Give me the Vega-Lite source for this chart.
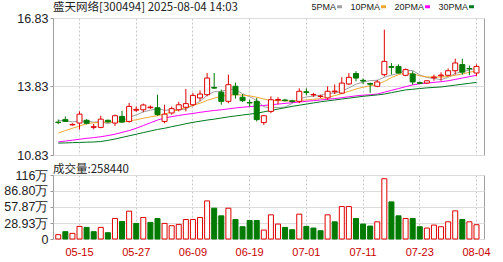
{
"$schema":"https://vega.github.io/schema/vega-lite/v6.json",
"autosize":{"type":"pad"},
"padding":{"left":3,"top":1,"right":20,"bottom":0},
"background":"white",
"bounds":"flush",
"spacing":20,
"config":{
  "view":{"stroke":"#a0a0a0"},
  "font":"Liberation Sans",
  "axis":{"labelFont":"Liberation Sans","labelFontSize":12.5,"labelColor":"#222","domain":false,"tickColor":"#999","tickSize":3,"labelPadding":2,"gridColor":"#dcdcdc","title":null,"labelOverlap":false},
  "title":{"font":"Noto Sans CJK SC","fontSize":11.5,"fontWeight":"normal","anchor":"start","frame":"group","color":"#222"}
},
"datasets":{"k":[
{"d":"05-12","o":12.25,"h":12.38,"l":12.18,"c":12.27,"cu":0,"vu":1,"v":7.8,"ma5":12.35,"ma10":11.79,"ma20":11.40,"ma30":11.35},
{"d":"05-13","o":12.38,"h":12.52,"l":12.28,"c":12.30,"cu":0,"vu":0,"v":13.2,"ma5":12.33,"ma10":11.90,"ma20":11.44,"ma30":11.36},
{"d":"05-14","o":12.15,"h":12.22,"l":12.12,"c":12.17,"cu":1,"vu":1,"v":10.2,"ma5":12.28,"ma10":12.00,"ma20":11.48,"ma30":11.37},
{"d":"05-15","o":12.23,"h":12.74,"l":11.94,"c":12.62,"cu":1,"vu":1,"v":22.8,"ma5":12.32,"ma10":12.10,"ma20":11.52,"ma30":11.38},
{"d":"05-16","o":12.35,"h":12.40,"l":12.17,"c":12.22,"cu":0,"vu":0,"v":21,"ma5":12.31,"ma10":12.20,"ma20":11.56,"ma30":11.39},
{"d":"05-19","o":12.04,"h":12.19,"l":11.96,"c":12.07,"cu":1,"vu":0,"v":13.2,"ma5":12.27,"ma10":12.24,"ma20":11.59,"ma30":11.40},
{"d":"05-20","o":12.04,"h":12.55,"l":12.00,"c":12.40,"cu":1,"vu":1,"v":21,"ma5":12.29,"ma10":12.26,"ma20":11.63,"ma30":11.42},
{"d":"05-21","o":12.35,"h":12.38,"l":12.25,"c":12.28,"cu":0,"vu":0,"v":11.4,"ma5":12.20,"ma10":12.27,"ma20":11.68,"ma30":11.47},
{"d":"05-22","o":12.23,"h":12.60,"l":12.10,"c":12.55,"cu":1,"vu":1,"v":37.1,"ma5":12.30,"ma10":12.28,"ma20":11.74,"ma30":11.53},
{"d":"05-23","o":12.52,"h":12.77,"l":12.25,"c":12.27,"cu":0,"vu":0,"v":31.7,"ma5":12.31,"ma10":12.29,"ma20":11.82,"ma30":11.60},
{"d":"05-26","o":12.30,"h":13.11,"l":12.25,"c":12.96,"cu":1,"vu":1,"v":50.3,"ma5":12.50,"ma10":12.32,"ma20":11.90,"ma30":11.67},
{"d":"05-27","o":12.79,"h":12.95,"l":12.72,"c":12.83,"cu":1,"vu":0,"v":28.2,"ma5":12.58,"ma10":12.37,"ma20":12.00,"ma30":11.74},
{"d":"05-28","o":12.81,"h":13.08,"l":12.70,"c":13.02,"cu":1,"vu":1,"v":38.9,"ma5":12.72,"ma10":12.44,"ma20":12.12,"ma30":11.81},
{"d":"05-29","o":12.90,"h":13.00,"l":12.85,"c":12.93,"cu":1,"vu":0,"v":30,"ma5":12.79,"ma10":12.50,"ma20":12.24,"ma30":11.88},
{"d":"05-30","o":12.90,"h":13.47,"l":12.55,"c":12.60,"cu":0,"vu":0,"v":37.1,"ma5":12.86,"ma10":12.55,"ma20":12.36,"ma30":11.95},
{"d":"06-03","o":12.30,"h":13.03,"l":12.22,"c":12.62,"cu":1,"vu":1,"v":28.2,"ma5":12.79,"ma10":12.62,"ma20":12.45,"ma30":12.00},
{"d":"06-04","o":12.67,"h":12.95,"l":12.60,"c":12.86,"cu":1,"vu":1,"v":24,"ma5":12.80,"ma10":12.72,"ma20":12.51,"ma30":12.07},
{"d":"06-05","o":12.81,"h":13.16,"l":12.74,"c":13.03,"cu":1,"vu":1,"v":26.4,"ma5":12.81,"ma10":12.82,"ma20":12.56,"ma30":12.13},
{"d":"06-06","o":12.92,"h":13.72,"l":12.74,"c":13.08,"cu":1,"vu":1,"v":35.3,"ma5":12.84,"ma10":12.90,"ma20":12.61,"ma30":12.20},
{"d":"06-09","o":13.03,"h":13.55,"l":12.96,"c":13.44,"cu":1,"vu":1,"v":35.3,"ma5":13.01,"ma10":13.00,"ma20":12.65,"ma30":12.26},
{"d":"06-10","o":13.33,"h":13.66,"l":13.20,"c":13.50,"cu":1,"vu":1,"v":38.9,"ma5":13.18,"ma10":13.10,"ma20":12.70,"ma30":12.31},
{"d":"06-11","o":13.47,"h":14.42,"l":13.40,"c":14.20,"cu":1,"vu":1,"v":68.9,"ma5":13.45,"ma10":13.22,"ma20":12.74,"ma30":12.36},
{"d":"06-12","o":13.79,"h":14.42,"l":13.72,"c":13.76,"cu":0,"vu":0,"v":55.7,"ma5":13.60,"ma10":13.32,"ma20":12.78,"ma30":12.40},
{"d":"06-13","o":13.58,"h":13.69,"l":13.03,"c":13.18,"cu":0,"vu":0,"v":41.9,"ma5":13.62,"ma10":13.40,"ma20":12.81,"ma30":12.45},
{"d":"06-16","o":13.18,"h":14.35,"l":13.10,"c":13.91,"cu":1,"vu":1,"v":55.7,"ma5":13.71,"ma10":13.45,"ma20":12.85,"ma30":12.50},
{"d":"06-17","o":13.84,"h":14.00,"l":13.30,"c":13.47,"cu":0,"vu":0,"v":35.3,"ma5":13.70,"ma10":13.47,"ma20":12.89,"ma30":12.54},
{"d":"06-18","o":13.36,"h":13.50,"l":13.15,"c":13.21,"cu":0,"vu":0,"v":22.2,"ma5":13.51,"ma10":13.45,"ma20":12.92,"ma30":12.58},
{"d":"06-19","o":13.13,"h":13.25,"l":12.95,"c":13.11,"cu":0,"vu":0,"v":33.5,"ma5":13.38,"ma10":13.42,"ma20":12.95,"ma30":12.62},
{"d":"06-20","o":13.18,"h":13.33,"l":12.30,"c":12.38,"cu":0,"vu":0,"v":33.5,"ma5":13.22,"ma10":13.36,"ma20":12.97,"ma30":12.66},
{"d":"06-23","o":12.25,"h":12.57,"l":12.15,"c":12.55,"cu":1,"vu":1,"v":16.2,"ma5":12.94,"ma10":13.28,"ma20":13.00,"ma30":12.72},
{"d":"06-24","o":12.74,"h":13.40,"l":12.66,"c":13.25,"cu":1,"vu":1,"v":43.7,"ma5":12.90,"ma10":13.22,"ma20":13.03,"ma30":12.78},
{"d":"06-25","o":13.23,"h":13.36,"l":13.05,"c":13.26,"cu":1,"vu":1,"v":27,"ma5":12.91,"ma10":13.21,"ma20":13.06,"ma30":12.84},
{"d":"06-26","o":13.24,"h":13.28,"l":13.18,"c":13.21,"cu":0,"vu":0,"v":21,"ma5":12.93,"ma10":13.20,"ma20":13.09,"ma30":12.90},
{"d":"06-27","o":13.20,"h":13.25,"l":13.12,"c":13.17,"cu":0,"vu":0,"v":16.8,"ma5":13.09,"ma10":13.20,"ma20":13.12,"ma30":12.96},
{"d":"06-30","o":13.18,"h":13.75,"l":13.10,"c":13.62,"cu":1,"vu":1,"v":44.9,"ma5":13.30,"ma10":13.22,"ma20":13.15,"ma30":13.01},
{"d":"07-01","o":13.60,"h":13.75,"l":13.45,"c":13.57,"cu":0,"vu":0,"v":22.8,"ma5":13.37,"ma10":13.24,"ma20":13.18,"ma30":13.06},
{"d":"07-02","o":13.46,"h":13.55,"l":13.38,"c":13.48,"cu":1,"vu":0,"v":19.8,"ma5":13.41,"ma10":13.27,"ma20":13.21,"ma30":13.11},
{"d":"07-03","o":13.39,"h":13.47,"l":13.33,"c":13.41,"cu":1,"vu":0,"v":15,"ma5":13.45,"ma10":13.30,"ma20":13.24,"ma30":13.16},
{"d":"07-04","o":13.33,"h":13.84,"l":13.25,"c":13.62,"cu":1,"vu":1,"v":43.7,"ma5":13.54,"ma10":13.35,"ma20":13.27,"ma30":13.20},
{"d":"07-07","o":13.60,"h":13.92,"l":13.50,"c":13.63,"cu":1,"vu":0,"v":31.1,"ma5":13.54,"ma10":13.43,"ma20":13.30,"ma30":13.24},
{"d":"07-08","o":13.54,"h":14.24,"l":13.50,"c":13.98,"cu":1,"vu":1,"v":58.7,"ma5":13.62,"ma10":13.52,"ma20":13.34,"ma30":13.28},
{"d":"07-09","o":13.94,"h":14.42,"l":13.90,"c":14.23,"cu":1,"vu":1,"v":58.7,"ma5":13.77,"ma10":13.62,"ma20":13.38,"ma30":13.32},
{"d":"07-10","o":14.40,"h":14.50,"l":14.06,"c":14.20,"cu":0,"vu":0,"v":37.1,"ma5":13.93,"ma10":13.72,"ma20":13.42,"ma30":13.36},
{"d":"07-11","o":14.10,"h":14.18,"l":13.94,"c":14.07,"cu":0,"vu":0,"v":27,"ma5":14.02,"ma10":13.80,"ma20":13.45,"ma30":13.40},
{"d":"07-14","o":13.96,"h":14.00,"l":13.55,"c":13.93,"cu":0,"vu":0,"v":23.4,"ma5":14.09,"ma10":13.86,"ma20":13.47,"ma30":13.43},
{"d":"07-15","o":13.84,"h":14.12,"l":13.80,"c":14.03,"cu":1,"vu":1,"v":31.1,"ma5":14.10,"ma10":13.92,"ma20":13.50,"ma30":13.46},
{"d":"07-16","o":14.35,"h":16.32,"l":14.27,"c":14.93,"cu":1,"vu":1,"v":109,"ma5":14.24,"ma10":14.05,"ma20":13.58,"ma30":13.50},
{"d":"07-17","o":14.70,"h":14.86,"l":14.35,"c":14.67,"cu":0,"vu":0,"v":67.1,"ma5":14.33,"ma10":14.22,"ma20":13.66,"ma30":13.56},
{"d":"07-18","o":14.71,"h":14.80,"l":14.40,"c":14.42,"cu":0,"vu":0,"v":41.9,"ma5":14.40,"ma10":14.35,"ma20":13.74,"ma30":13.62},
{"d":"07-21","o":14.32,"h":14.62,"l":14.28,"c":14.57,"cu":1,"vu":1,"v":37.1,"ma5":14.53,"ma10":14.42,"ma20":13.82,"ma30":13.68},
{"d":"07-22","o":14.38,"h":14.50,"l":13.91,"c":14.03,"cu":0,"vu":0,"v":37.1,"ma5":14.53,"ma10":14.38,"ma20":13.90,"ma30":13.71},
{"d":"07-23","o":14.00,"h":14.05,"l":13.95,"c":13.97,"cu":0,"vu":0,"v":22.2,"ma5":14.34,"ma10":14.30,"ma20":13.95,"ma30":13.74},
{"d":"07-24","o":13.98,"h":14.10,"l":13.95,"c":14.08,"cu":1,"vu":1,"v":19.8,"ma5":14.22,"ma10":14.25,"ma20":13.98,"ma30":13.77},
{"d":"07-25","o":14.21,"h":14.35,"l":14.08,"c":14.24,"cu":1,"vu":1,"v":25.2,"ma5":14.18,"ma10":14.25,"ma20":14.01,"ma30":13.79},
{"d":"07-28","o":14.30,"h":14.45,"l":14.08,"c":14.33,"cu":1,"vu":1,"v":22.2,"ma5":14.13,"ma10":14.24,"ma20":14.04,"ma30":13.81},
{"d":"07-29","o":14.32,"h":14.62,"l":14.28,"c":14.52,"cu":1,"vu":1,"v":31.1,"ma5":14.23,"ma10":14.27,"ma20":14.08,"ma30":13.85},
{"d":"07-30","o":14.52,"h":15.05,"l":14.35,"c":14.86,"cu":1,"vu":1,"v":50.9,"ma5":14.40,"ma10":14.32,"ma20":14.14,"ma30":13.89},
{"d":"07-31","o":14.79,"h":15.05,"l":14.35,"c":14.46,"cu":0,"vu":0,"v":35.3,"ma5":14.48,"ma10":14.38,"ma20":14.20,"ma30":13.93},
{"d":"08-01","o":14.62,"h":14.75,"l":14.32,"c":14.60,"cu":0,"vu":1,"v":31.1,"ma5":14.55,"ma10":14.45,"ma20":14.26,"ma30":13.97},
{"d":"08-04","o":14.42,"h":14.80,"l":14.28,"c":14.71,"cu":1,"vu":1,"v":25.8,"ma5":14.63,"ma10":14.52,"ma20":14.32,"ma30":14.01}
]},
"data":{"name":"k"},
"vconcat":[
 {
  "width":431,"height":137,
  "title":{"text":"盛天网络[300494] 2025-08-04 14:03","offset":-1},
  "encoding":{"x":{"field":"d","type":"ordinal","sort":null,"scale":{"paddingInner":0,"paddingOuter":0.4,"align":0.3},
    "axis":{"values":["05-15","05-27","06-09","06-19","07-01","07-11","07-23","08-04"],"labels":false,"ticks":false,"grid":true,"gridDash":[2,2],"gridColor":"#c8c8c8","bandPosition":0.5}}},
  "layer":[
   {"transform":[{"fold":["ma5","ma10","ma20","ma30"],"as":["k","val"]}],
    "mark":{"type":"line","strokeWidth":1},
    "encoding":{
      "y":{"field":"val","type":"quantitative","scale":{"domain":[10.83,16.83],"zero":false,"nice":false},
        "axis":{"values":[10.83,11.58,12.33,13.08,13.83,14.58,15.33,16.08,16.83],"format":".2f","grid":true,"labelOverlap":false,"labelSeparation":0}},
      "color":{"field":"k","type":"nominal","scale":{"domain":["ma5","ma10","ma20","ma30"],"range":["#a0a0a0","#f0a830","#ff00ff","#007a20"]},
        "legend":{"orient":"none","legendX":282,"legendY":-16,"direction":"horizontal","title":null,"gridAlign":"all",
          "labelExpr":"datum.label=='ma5'?'5PMA':datum.label=='ma10'?'10PMA':datum.label=='ma20'?'20PMA':'30PMA'",
          "symbolType":"stroke","symbolSize":25,"symbolStrokeWidth":3,"labelFontSize":9,"labelFont":"Liberation Sans","labelColor":"#222",
          "labelAlign":"right","labelOffset":-8,"columnPadding":2}}
    }},
   {"mark":{"type":"rule","strokeWidth":1},
    "encoding":{"y":{"field":"l","type":"quantitative"},"y2":{"field":"h"},
      "color":{"condition":{"test":"datum.cu==1","value":"#e00000"},"value":"#007a00"}}},
   {"mark":{"type":"bar","width":5,"strokeWidth":1},
    "encoding":{"y":{"field":"o","type":"quantitative"},"y2":{"field":"c"},
      "fill":{"condition":{"test":"datum.cu==1","value":"#ffffff"},"value":"#007a00"},
      "stroke":{"condition":{"test":"datum.cu==1","value":"#e00000"},"value":"#007a00"}}}
  ]
 },
 {
  "width":431,"height":64,
  "title":{"text":"成交量:258440","offset":-6},
  "mark":{"type":"bar","width":5,"strokeWidth":1},
  "encoding":{
    "x":{"field":"d","type":"ordinal","sort":null,"scale":{"paddingInner":0,"paddingOuter":0.4,"align":0.3},
      "axis":{"values":["05-15","05-27","06-09","06-19","07-01","07-11","07-23","08-04"],"labels":true,"ticks":false,"grid":true,"gridDash":[2,2],"gridColor":"#c8c8c8","bandPosition":0.5,"labelColor":"#cc0000","labelFontSize":11,"labelPadding":7,"labelAngle":0}},
    "y":{"field":"v","type":"quantitative","scale":{"domain":[0,115.73],"nice":false},
      "axis":{"values":[0,28.93,57.87,86.80,115.73],"grid":true,"labelOverlap":false,
        "labelExpr":"datum.value==0?'0':datum.value>115?'116万':format(datum.value,'.2f')+'万'"}},
    "fill":{"condition":{"test":"datum.vu==1","value":"#ffffff"},"value":"#007a00"},
    "stroke":{"condition":{"test":"datum.vu==1","value":"#e00000"},"value":"#007a00"}
  }
 }
]
}
